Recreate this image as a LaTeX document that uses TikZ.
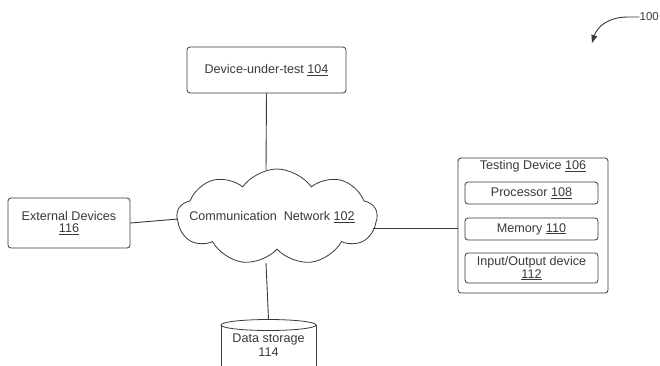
\documentclass[tikz,border=0pt]{standalone}
\usepackage{fontspec}
\setmainfont{Liberation Sans}
\usetikzlibrary{shapes.symbols,arrows.meta}
\definecolor{ink}{HTML}{3A3A3A}
\begin{document}
\begin{tikzpicture}[x=1pt,y=-1pt,
  every node/.style={text=ink,font=\fontsize{12.6}{14}\selectfont},
  box/.style={draw=ink,line width=0.8pt,rounded corners=3pt,align=center,inner sep=0pt},
  link/.style={draw=ink,line width=0.9pt}]
\clip (0,0) rectangle (660,365);
\fill[white] (0,0) rectangle (660,365);

% network cloud
\node[cloud,draw=ink,line width=0.8pt,cloud puffs=9,cloud puff arc=110,aspect=2.1,
  minimum width=200pt,minimum height=96pt,inner sep=0pt] (net) at (277,217) {};
\node at (272,217) {Communication\ \ Network \underline{102}};

% device under test
\node[box,minimum width=159pt,minimum height=46pt] (dut) at (266.5,70) {Device-under-test \underline{104}};

% external devices
\node[box,minimum width=122pt,minimum height=50pt] (ext) at (69,223) {External Devices\\[-2pt]\underline{116}};

% testing device with its parts
\node[box,minimum width=150pt,minimum height=135pt] (td) at (533,225.5) {};
\node (tdt) at (533,166) {Testing Device \underline{106}};
\node[box,minimum width=133pt,minimum height=22pt] (cpu) at (531.5,193) {Processor \underline{108}};
\node[box,minimum width=133pt,minimum height=22pt] (mem) at (531.5,229) {Memory \underline{110}};
\node[box,minimum width=133pt,minimum height=30pt] (io) at (531.5,268) {Input/Output device\\[-1pt]\underline{112}};

% data storage cylinder
\coordinate (ds) at (268.5,319.5);
\draw[ink,line width=0.8pt] (221,325) -- (221,370) (316,325) -- (316,370);
\draw[ink,line width=0.8pt,fill=white] (268.5,325) ellipse [x radius=47.5,y radius=5.5];
\node[align=center] (dst) at (268.5,345) {Data storage\\[0pt]114};

% connectors
\draw[link] (dut.south) -- (266,170);
\draw[link] (ext.east) -- (178,219);
\draw[link] (373,228) -- (td.west |- 0,228);
\draw[link] (266,263) -- (ds);

% reference label
\node[anchor=east,inner sep=0pt,font=\fontsize{11.5}{13}\selectfont] (ref) at (659,17) {100};
\draw[ink,line width=0.9pt,-{Triangle[length=8pt,width=6pt]}] (ref.west) -- (628,17) .. controls (608,17) and (597,27) .. (592,43);
\end{tikzpicture}
\end{document}
